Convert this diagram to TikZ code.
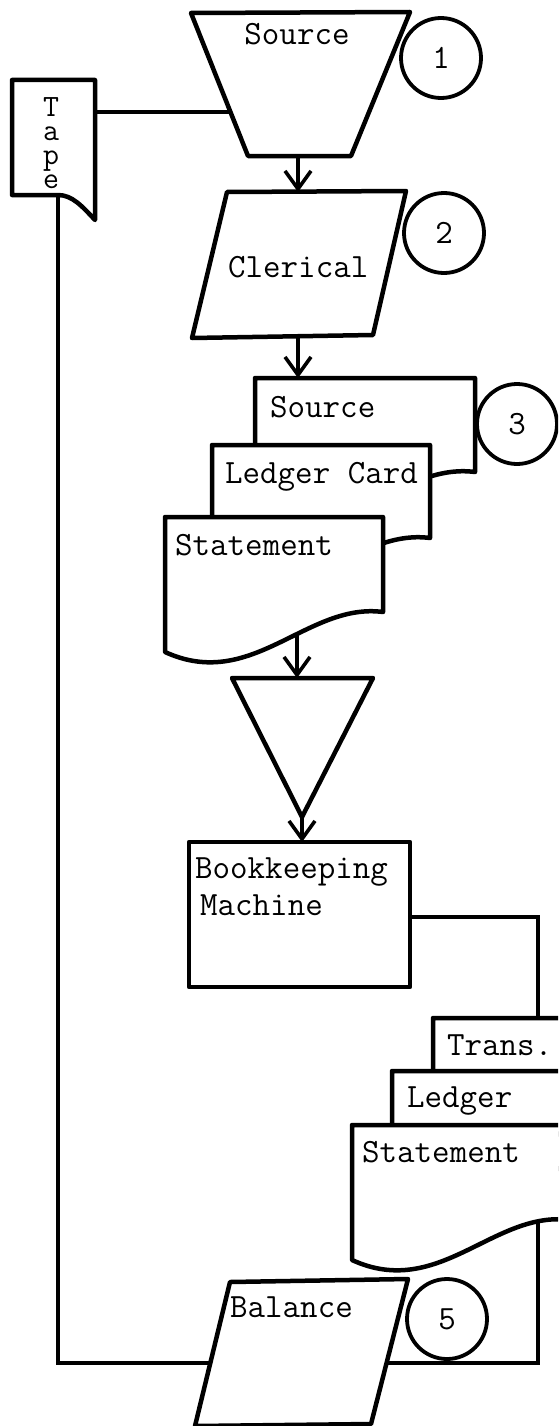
\documentclass[tikz,border=0pt]{standalone}
\usepackage{tikz}
\usetikzlibrary{arrows.meta}

% sheet with a wavy lower edge: left, top, right, foot of right side
\newcommand{\docsheet}[4]{%
  \filldraw[figline] (#1,#2) -- (#3,#2) -- (#3,#4)
    .. controls ({#3-76},{#4-10}) and ({#1+87},{#4+80}) .. (#1,{#4+40}) -- cycle;}

\begin{document}
\begin{tikzpicture}[x=1pt,y=-1pt,
  figline/.style={line width=4.5pt,line join=round,fill=white},
  connline/.style={line width=3.6pt},
  flowarrow/.style={connline,-{Straight Barb[length=18pt,width=26pt]}},
  lbl/.style={font=\fontsize{34}{38}\selectfont\ttfamily,anchor=base west,inner sep=0pt},
  stepno/.style={circle,draw,line width=3.8pt,minimum size=80pt,inner sep=0pt,
    font=\fontsize{34}{38}\selectfont\ttfamily}]
\clip (0,0) rectangle (558,1426);

\filldraw[figline] (191,13) -- (410,12) -- (351,156) -- (248,156) -- cycle;
\node[lbl,anchor=base] (srctxt) at (297,45) {Source};
\node[stepno] (n1) at (441,58) {1};

\filldraw[figline] (12,80) -- (95,80) -- (95,220) .. controls (82,206) and (72,195) .. (58,195) -- (12,195) -- cycle;
\node[font=\fontsize{31}{24}\selectfont\ttfamily,align=center,anchor=north,inner sep=0pt] (tapetxt) at (51,97) {T\\a\\p\\e};

\filldraw[figline] (227,192) -- (406,191) -- (373,335) -- (192,338) -- cycle;
\node[lbl] (clertxt) at (228,277) {Clerical};
\node[stepno] (n2) at (444,233) {2};

\docsheet{255}{378}{475}{472}
\docsheet{212}{445}{430}{538}
\docsheet{165}{517}{383}{612}
\node[lbl] (srccard) at (270,417) {Source};
\node[lbl] (ledgcard) at (225,483) {Ledger Card};
\node[lbl] (stmtcard) at (175,555) {Statement};
\node[stepno] (n3) at (517,424) {3};

\filldraw[figline] (232,678) -- (373,678) -- (302,817) -- cycle;

\filldraw[figline] (189,842) rectangle (410,987);
\node[lbl] (bkm) at (195,878) {Bookkeeping};
\node[lbl] (mach) at (200,915) {Machine};

\docsheet{433}{1018}{653}{1108}
\docsheet{392}{1071}{612}{1161}
\docsheet{352}{1125}{570}{1220}
\node[lbl] (transtxt) at (447,1055) {Trans.};
\node[lbl] (ledgtxt) at (407,1107) {Ledger};
\node[lbl] (stmttxt) at (362,1162) {Statement};

\filldraw[figline] (230,1282) -- (408,1279) -- (371,1424) -- (195,1426) -- cycle;
\node[lbl] (baltxt) at (230,1317) {Balance};
\node[stepno] (n5) at (447,1319) {5};

\coordinate (tape-e) at (95,112);
\coordinate (src-w) at (230,112);
\coordinate (tape-s) at (58,195);
\coordinate (bal-w) at (210,1363);
\coordinate (src-s) at (298,156);
\coordinate (cler-n) at (298,192);
\coordinate (cler-s) at (298,336);
\coordinate (card-n) at (298,378);
\coordinate (stmt-s) at (297,633);
\coordinate (tri-n) at (297,678);
\coordinate (tri-s) at (302,817);
\coordinate (bkm-n) at (302,842);
\coordinate (bkm-e) at (410,917);
\coordinate (trans-n) at (538,1018);
\coordinate (stmt2-s) at (538,1221);
\coordinate (bal-e) at (387,1363);

\draw[connline] (tape-e) -- (src-w);
\draw[connline] (tape-s) |- (bal-w);
\draw[flowarrow] (src-s) -- (cler-n);
\draw[flowarrow] (cler-s) -- (card-n);
\draw[flowarrow] (stmt-s) -- (tri-n);
\draw[flowarrow] (tri-s) -- (bkm-n);
\draw[connline] (bkm-e) -| (trans-n);
\draw[connline] (stmt2-s) |- (bal-e);

\end{tikzpicture}
\end{document}
